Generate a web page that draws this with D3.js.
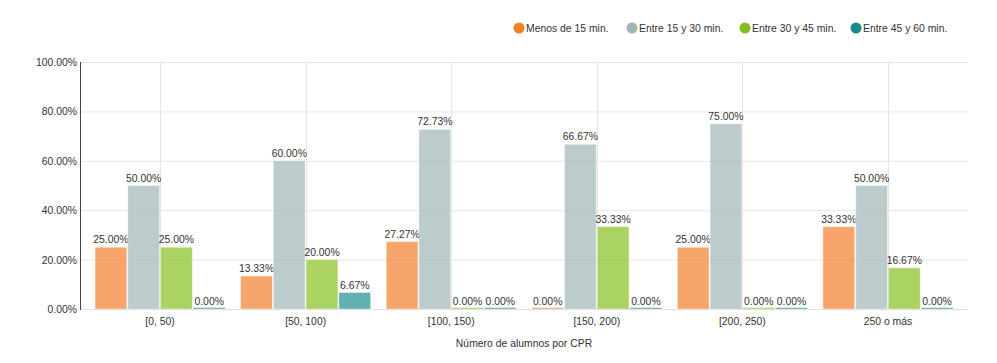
<!DOCTYPE html>
<html>
<head>
<meta charset="utf-8">
<style>
body { margin: 0; background: #fff; }
text { font-family: "Liberation Sans", Arial, sans-serif; }
</style>
</head>
<body>
<svg id="chart" width="997" height="363"></svg>
<script src="https://cdn.jsdelivr.net/npm/d3@7"></script>
<script>
    const categories = ["[0, 50)", "[50, 100)", "[100, 150)", "[150, 200)", "[200, 250)", "250 o más"];
    const series = ["Menos de 15 min.", "Entre 15 y 30 min.", "Entre 30 y 45 min.", "Entre 45 y 60 min."];
    const menos15 = [25.00, 13.33, 27.27, 0.00, 25.00, 33.33];
    const entre15_30 = [50.00, 60.00, 72.73, 66.67, 75.00, 50.00];
    const entre30_45 = [25.00, 20.00, 0.00, 33.33, 0.00, 16.67];
    const entre45_60 = [0.00, 6.67, 0.00, 0.00, 0.00, 0.00];
    const yTicks = [0, 20, 40, 60, 80, 100];

    const values = [menos15, entre15_30, entre30_45, entre45_60];
    const legendColors = ["#f58025", "#a3b6b6", "#86bd1f", "#1f8a8a"];
    const barColors = ["#f4873a", "#a5b9b9", "#8ec42c", "#2e9696"];
    const fs = "10.4px";

    const svg = d3.select("#chart");
    const plotLeft = 80, plotRight = 968, plotTop = 62, plotBottom = 309;

    const x = d3.scaleBand().domain(categories).range([plotLeft, plotRight])
        .paddingInner(0.1).paddingOuter(0.1);
    const xs = d3.scaleBand().domain(series).range([0, x.bandwidth()]);
    const y = d3.scaleLinear().domain([0, 100]).range([plotBottom, plotTop]);

    // grid
    svg.append("g").selectAll("line.h")
        .data(yTicks)
        .enter()
        .append("line")
        .attr("x1", plotLeft).attr("x2", plotRight)
        .attr("y1", d => y(d) + 0.5).attr("y2", d => y(d) + 0.5)
        .style("stroke", "#e6e6e6").style("stroke-width", 1);

    svg.append("g").selectAll("line.v")
        .data(categories)
        .enter()
        .append("line")
        .attr("x1", d => Math.round(x(d) + x.bandwidth() / 2) + 0.5)
        .attr("x2", d => Math.round(x(d) + x.bandwidth() / 2) + 0.5)
        .attr("y1", plotTop).attr("y2", plotBottom)
        .style("stroke", "#e6e6e6").style("stroke-width", 1);

    // y labels
    svg.append("g").selectAll("text")
        .data(yTicks)
        .enter()
        .append("text")
        .attr("x", plotLeft - 3)
        .attr("y", d => y(d) + 4)
        .attr("text-anchor", "end")
        .attr("font-size", fs)
        .attr("fill", "#333")
        .text(d => d.toFixed(2) + "%");

    // bars
    series.forEach((s, si) => {
        const g = svg.append("g");
        g.selectAll("rect")
            .data(values[si])
            .enter()
            .append("rect")
            .attr("x", (d, i) => x(categories[i]) + xs(s) + 0.5)
            .attr("width", xs.bandwidth() - 1)
            .attr("y", d => Math.min(y(d), plotBottom - 1.5))
            .attr("height", d => Math.max(plotBottom - y(d), 1.5))
            .style("fill", barColors[si])
            .style("fill-opacity", 0.75)
            .style("stroke", "#fff")
            .style("stroke-opacity", 0.4)
            .style("stroke-width", 1);
        g.selectAll("text")
            .data(values[si])
            .enter()
            .append("text")
            .attr("x", (d, i) => x(categories[i]) + xs(s) + xs.bandwidth() / 2)
            .attr("y", d => y(d) - 4)
            .attr("text-anchor", "middle")
            .attr("font-size", fs)
            .attr("fill", "#333")
            .text(d => d.toFixed(2) + "%");
    });

    // axes
    svg.append("line")
        .attr("x1", plotLeft).attr("x2", plotRight)
        .attr("y1", plotBottom + 0.5).attr("y2", plotBottom + 0.5)
        .style("stroke", "#e0e0e0");
    svg.append("line")
        .attr("x1", plotLeft + 0.5).attr("x2", plotLeft + 0.5)
        .attr("y1", plotTop).attr("y2", plotBottom + 1)
        .style("stroke", "#444");

    svg.append("g").selectAll("text")
        .data(categories)
        .enter()
        .append("text")
        .attr("x", d => x(d) + x.bandwidth() / 2)
        .attr("y", plotBottom + 16)
        .attr("text-anchor", "middle")
        .attr("font-size", fs)
        .attr("fill", "#333")
        .text(d => d);

    svg.append("text")
        .attr("x", (plotLeft + plotRight) / 2)
        .attr("y", 347)
        .attr("text-anchor", "middle")
        .attr("font-size", fs)
        .attr("fill", "#333")
        .text("Número de alumnos por CPR");

    // legend
    const legendX = [519, 632, 745, 856];
    const legend = svg.append("g").selectAll("g")
        .data(series)
        .enter()
        .append("g")
        .attr("transform", (d, i) => "translate(" + legendX[i] + ",28)");
    legend.append("circle")
        .attr("r", 5.5)
        .style("fill", (d, i) => legendColors[i]);
    legend.append("text")
        .attr("x", 7)
        .attr("y", 4)
        .attr("font-size", fs)
        .attr("fill", "#333")
        .text(d => d);
</script>
</body>
</html>
